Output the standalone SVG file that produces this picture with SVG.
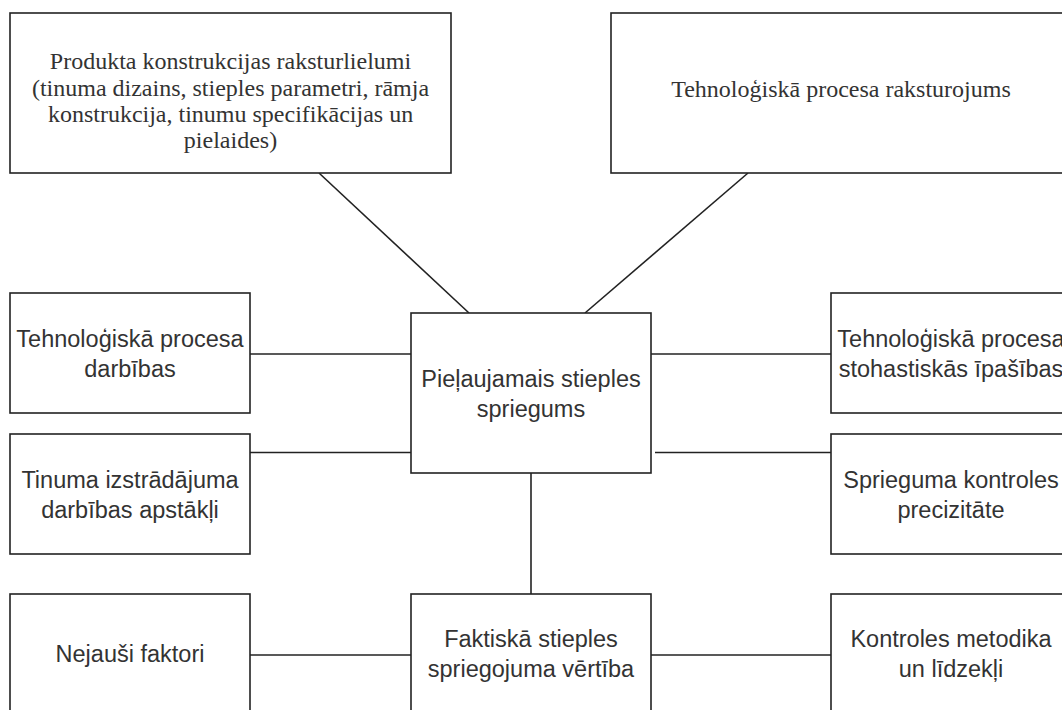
<svg xmlns="http://www.w3.org/2000/svg" width="1062" height="710" viewBox="0 0 1062 710">
<style>
.box{fill:#fff;stroke:#222;stroke-width:1.6}
.ln{stroke:#222;stroke-width:1.6;fill:none}
.s{font-family:"Liberation Sans",Arial,sans-serif;font-size:23.5px;fill:#333;text-anchor:middle}
.r{font-family:"Liberation Serif","Times New Roman",serif;font-size:24px;fill:#333;text-anchor:middle}
</style>
<rect width="1062" height="710" fill="#fff"/>
<g id="connectors">
<line class="ln" x1="319" y1="173" x2="469" y2="313"/>
<line class="ln" x1="748" y1="173" x2="585" y2="313"/>
<line class="ln" x1="250" y1="354" x2="411" y2="354"/>
<line class="ln" x1="651" y1="354" x2="831" y2="354"/>
<line class="ln" x1="248" y1="452.5" x2="411" y2="452.5"/>
<line class="ln" x1="655" y1="452.5" x2="831" y2="452.5"/>
<line class="ln" x1="531" y1="473" x2="531" y2="594"/>
<line class="ln" x1="250" y1="655" x2="411" y2="655"/>
<line class="ln" x1="651" y1="655" x2="831" y2="655"/>
</g>
<g id="n-produkts">
<rect class="box" x="10" y="13" width="441" height="160"/>
<text class="r" x="230.5"><tspan x="230.5" y="69">Produkta konstrukcijas raksturlielumi</tspan><tspan x="230.5" y="95.5">(tinuma dizains, stieples parametri, rāmja</tspan><tspan x="230.5" y="122">konstrukcija, tinumu specifikācijas un</tspan><tspan x="230.5" y="148">pielaides)</tspan></text>
</g>
<g id="n-raksturojums">
<rect class="box" x="611" y="13" width="460" height="160"/>
<text class="r" x="841" y="97">Tehnoloģiskā procesa raksturojums</text>
</g>
<g id="n-darbibas">
<rect class="box" x="10" y="293" width="240" height="120"/>
<text class="s"><tspan x="130" y="347">Tehnoloģiskā procesa</tspan><tspan x="130" y="377">darbības</tspan></text>
</g>
<g id="n-apstakli">
<rect class="box" x="10" y="434" width="240" height="120"/>
<text class="s"><tspan x="130" y="488">Tinuma izstrādājuma</tspan><tspan x="130" y="518">darbības apstākļi</tspan></text>
</g>
<g id="n-nejausi">
<rect class="box" x="10" y="594" width="240" height="120"/>
<text class="s" x="130" y="662">Nejauši faktori</text>
</g>
<g id="n-pielaujamais">
<rect class="box" x="411" y="313" width="240" height="160"/>
<text class="s"><tspan x="531" y="387">Pieļaujamais stieples</tspan><tspan x="531" y="417">spriegums</tspan></text>
</g>
<g id="n-faktiska">
<rect class="box" x="411" y="594" width="240" height="120"/>
<text class="s"><tspan x="531" y="647">Faktiskā stieples</tspan><tspan x="531" y="677">spriegojuma vērtība</tspan></text>
</g>
<g id="n-stohastiskas">
<rect class="box" x="831" y="293" width="240" height="120"/>
<text class="s"><tspan x="951" y="347">Tehnoloģiskā procesa</tspan><tspan x="951" y="377">stohastiskās īpašības</tspan></text>
</g>
<g id="n-precizitate">
<rect class="box" x="831" y="434" width="240" height="120"/>
<text class="s"><tspan x="951" y="488">Sprieguma kontroles</tspan><tspan x="951" y="518">precizitāte</tspan></text>
</g>
<g id="n-metodika">
<rect class="box" x="831" y="594" width="240" height="120"/>
<text class="s"><tspan x="951" y="647">Kontroles metodika</tspan><tspan x="951" y="677">un līdzekļi</tspan></text>
</g>
</svg>
